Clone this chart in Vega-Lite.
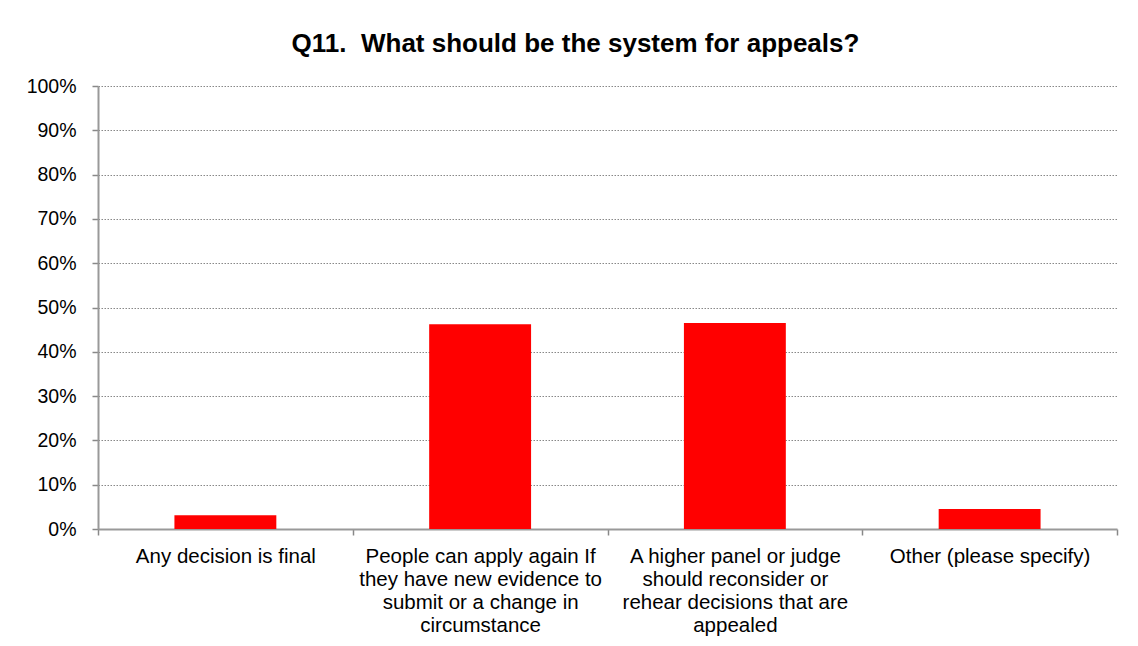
{
  "$schema": "https://vega.github.io/schema/vega-lite/v6.json",
  "autosize": "none",
  "width": 1019,
  "height": 443,
  "padding": {"left": 98, "top": 86, "right": 21, "bottom": 117},
  "background": "white",
  "title": {
    "text": "Q11.\u00a0\u00a0What should be the system for appeals?",
    "font": "Liberation Sans",
    "fontSize": 26,
    "fontWeight": "bold",
    "color": "#000000",
    "anchor": "middle",
    "dx": -32,
    "offset": 19
  },
  "data": {
    "values": [
      {"answer": "Any decision is final", "share": 0.031},
      {"answer": "People can apply again If they have new evidence to submit or a change in circumstance", "share": 0.462},
      {"answer": "A higher panel or judge should reconsider or rehear decisions that are appealed", "share": 0.465},
      {"answer": "Other (please specify)", "share": 0.045}
    ]
  },
  "mark": {"type": "bar", "color": "#ff0000", "width": {"band": 0.4}},
  "encoding": {
    "x": {
      "field": "answer",
      "type": "nominal",
      "sort": null,
      "scale": {"padding": 0},
      "axis": {
        "title": null,
        "labelAngle": 0,
        "labelFont": "Liberation Sans",
        "labelFontSize": 20.5,
        "labelColor": "#000000",
        "labelLineHeight": 23,
        "labelPadding": 11,
        "labelLimit": 0,
        "labelBaseline": "top",
        "labelOverlap": false,
        "tickBand": "extent",
        "tickSize": 6,
        "tickColor": "#888888",
        "tickWidth": 1.5,
        "domainColor": "#999999",
        "domainWidth": 2,
        "grid": false,
        "labelExpr": "datum.value == 'People can apply again If they have new evidence to submit or a change in circumstance' ? ['People can apply again If', 'they have new evidence to', 'submit or a change in', 'circumstance'] : datum.value == 'A higher panel or judge should reconsider or rehear decisions that are appealed' ? ['A higher panel or judge', 'should reconsider or', 'rehear decisions that are', 'appealed'] : datum.value"
      }
    },
    "y": {
      "field": "share",
      "type": "quantitative",
      "scale": {"domain": [0, 1], "nice": false},
      "axis": {
        "title": null,
        "format": ".0%",
        "values": [0, 0.1, 0.2, 0.3, 0.4, 0.5, 0.6, 0.7, 0.8, 0.9, 1],
        "labelFont": "Liberation Sans",
        "labelFontSize": 19.5,
        "labelColor": "#000000",
        "labelPadding": 16,
        "tickSize": 6,
        "tickColor": "#888888",
        "tickWidth": 1.5,
        "domainColor": "#999999",
        "domainWidth": 2,
        "grid": true,
        "gridColor": "#888888",
        "gridDash": [1.5, 1.5],
        "gridWidth": 1
      }
    }
  },
  "config": {"view": {"stroke": null}}
}
